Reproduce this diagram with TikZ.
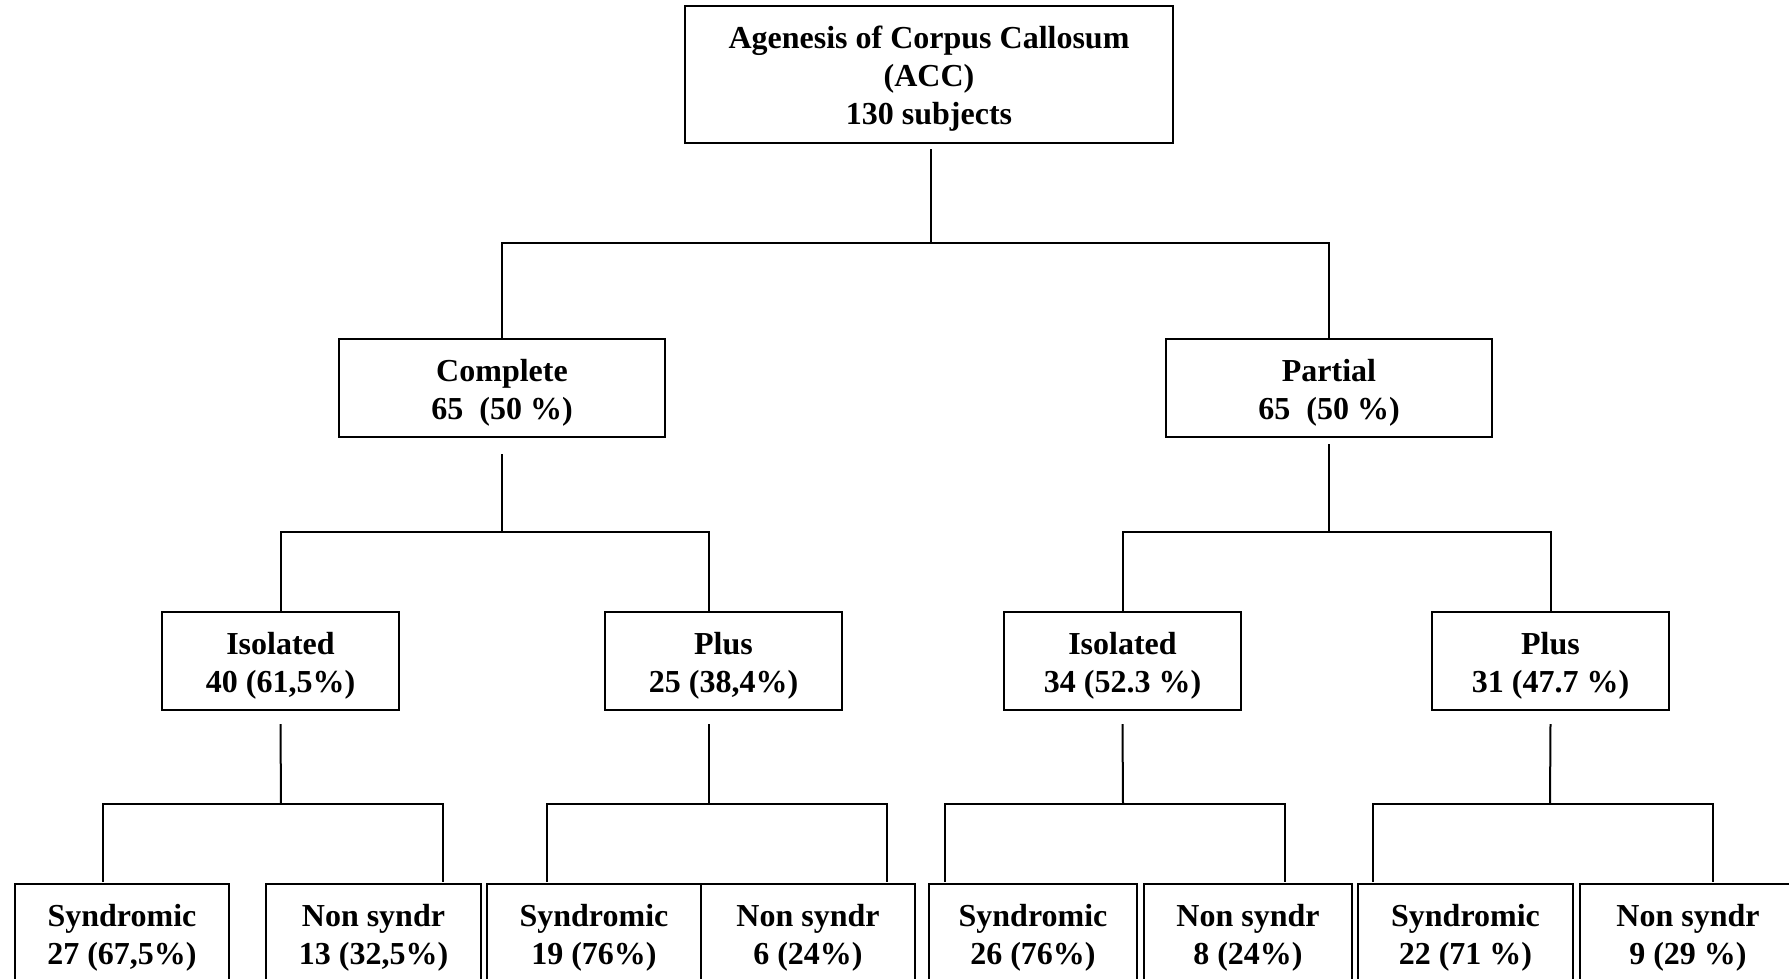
\documentclass[tikz,border=0pt]{standalone}
\usepackage{fontspec}
\setmainfont{Liberation Serif}
\newcommand{\bxtext}[1]{\raisebox{-4.5pt}[\height][\depth]{\begin{tabular}{@{}c@{}}#1\end{tabular}}}
\begin{document}
\begin{tikzpicture}[x=1pt,y=-1pt,
  box/.style={draw, line width=2pt, align=center, inner sep=0pt,
    font=\fontsize{32}{38}\selectfont\bfseries},
  lvltwo/.style={box, minimum width=326pt, minimum height=98pt},
  lvlthree/.style={box, minimum width=237pt, minimum height=98pt},
  conn/.style={line width=2pt}]
\useasboundingbox[fill=white] (0,0) rectangle (1789,978);

% level 1
\node[box, minimum width=488pt, minimum height=137pt] (top) at (929,74.5)
  {\bxtext{Agenesis of Corpus Callosum\\(ACC)\\130 subjects}};

% level 2
\node[lvltwo] (comp) at (502,388) {\bxtext{Complete\\65\ \ (50~\%)}};
\node[lvltwo] (part) at (1329,388) {\bxtext{Partial\\65\ \ (50~\%)}};

% level 3
\node[lvlthree] (iso1) at (280.5,661) {\bxtext{Isolated\\40 (61,5\%)}};
\node[lvlthree] (plus1) at (723.5,661) {\bxtext{Plus\\25 (38,4\%)}};
\node[lvlthree] (iso2) at (1122.5,661) {\bxtext{Isolated\\34 (52.3 \%)}};
\node[lvlthree] (plus2) at (1550.5,661) {\bxtext{Plus\\31 (47.7 \%)}};

% level 4
\node[box, minimum width=214pt, minimum height=99pt] (s1) at (122,933.5) {\bxtext{Syndromic\\27 (67,5\%)}};
\node[box, minimum width=215pt, minimum height=99pt] (n1) at (373.5,933.5) {\bxtext{Non syndr\\13 (32,5\%)}};
\node[box, minimum width=214pt, minimum height=99pt] (s2) at (594,933.5) {\bxtext{Syndromic\\19 (76\%)}};
\node[box, minimum width=214pt, minimum height=99pt] (n2) at (808,933.5) {\bxtext{Non syndr\\6 (24\%)}};
\node[box, minimum width=208pt, minimum height=99pt] (s3) at (1033,933.5) {\bxtext{Syndromic\\26 (76\%)}};
\node[box, minimum width=208pt, minimum height=99pt] (n3) at (1248,933.5) {\bxtext{Non syndr\\8 (24\%)}};
\node[box, minimum width=215pt, minimum height=99pt] (s4) at (1465.5,933.5) {\bxtext{Syndromic\\22 (71 \%)}};
\node[box, minimum width=217pt, minimum height=99pt] (n4) at (1688,933.5) {\bxtext{Non syndr\\9 (29 \%)}};

% bus coordinates
\coordinate (b1) at (931,243);
\coordinate (b2) at (502,532);
\coordinate (b2r) at (1329,532);
\coordinate (b3a) at (281,804);
\coordinate (b3b) at (709,804);
\coordinate (b3c) at (1123,804);
\coordinate (b3d) at (1550,804);

% connectors level 1 -> 2
\draw[conn] ([xshift=2pt,yshift=-5pt]top.south) -- (b1);
\draw[conn] (comp.north) |- (b1) -| (part.north);

% level 2 -> 3
\draw[conn] ([yshift=-16pt]comp.south) -- (b2);
\draw[conn] (iso1.north) |- (b2) -| ([xshift=-14.5pt]plus1.north);
\draw[conn] ([yshift=-6pt]part.south) -- (b2r);
\draw[conn] (iso2.north) |- (b2r) -| (plus2.north);

% level 3 -> 4
\draw[conn] ([yshift=-13pt]iso1.south) -- (b3a);
\draw[conn] ([xshift=-19pt,yshift=1pt]s1.north) |- (b3a) -| ([xshift=69.5pt,yshift=1pt]n1.north);
\draw[conn] ([xshift=-14.5pt,yshift=-13pt]plus1.south) -- (b3b);
\draw[conn] ([xshift=-47pt,yshift=1pt]s2.north) |- (b3b) -| ([xshift=79pt,yshift=1pt]n2.north);
\draw[conn] ([yshift=-13pt]iso2.south) -- (b3c);
\draw[conn] ([xshift=-88pt,yshift=1pt]s3.north) |- (b3c) -| ([xshift=37pt,yshift=1pt]n3.north);
\draw[conn] ([yshift=-13pt]plus2.south) -- (b3d);
\draw[conn] ([xshift=-92.5pt,yshift=1pt]s4.north) |- (b3d) -| ([xshift=25pt,yshift=1pt]n4.north);
\end{tikzpicture}
\end{document}
